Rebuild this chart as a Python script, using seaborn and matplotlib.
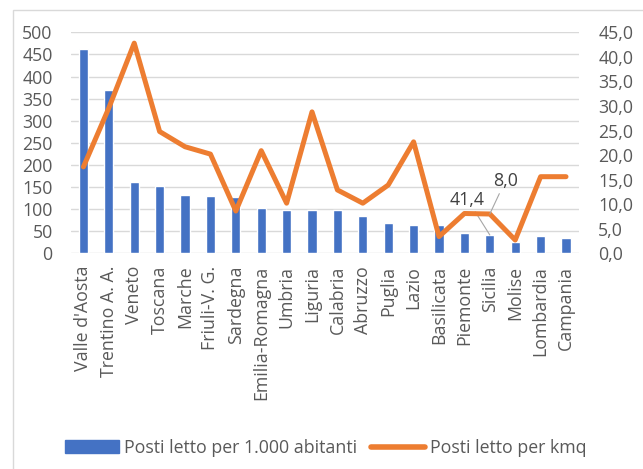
import numpy as np
import pandas as pd
import matplotlib
matplotlib.use("Agg")
import matplotlib.pyplot as plt
from matplotlib.patches import Rectangle
from matplotlib.lines import Line2D
from matplotlib.ticker import FuncFormatter
import seaborn as sns

# data
regioni = ["Valle d'Aosta", "Trentino A. A.", "Veneto", "Toscana", "Marche",
           "Friuli-V. G.", "Sardegna", "Emilia-Romagna", "Umbria", "Liguria",
           "Calabria", "Abruzzo", "Puglia", "Lazio", "Basilicata", "Piemonte",
           "Sicilia", "Molise", "Lombardia", "Campania"]
posti_per_1000_ab = [462, 369, 161, 153, 133, 130, 128, 103, 99, 99,
                     99, 84, 68, 64, 64, 45, 41.4, 25, 38, 34]
posti_per_kmq = [17.6, 29.6, 42.8, 24.8, 21.7, 20.2, 8.6, 20.9, 10.2, 28.8,
                 12.9, 10.2, 13.9, 22.7, 3.4, 8.1, 8.0, 2.7, 15.6, 15.6]
left_ticks = list(range(0, 501, 50))
right_ticks = list(range(0, 46, 5))

BLUE = "#4472C4"
ORANGE = "#ED7D31"
GRAY = "#595959"
FS = 12.8

sns.set_style("white")
plt.rcParams["font.family"] = ["Open Sans", "DejaVu Sans"]

df = pd.DataFrame({"regione": regioni,
                   "ab": posti_per_1000_ab,
                   "kmq": posti_per_kmq,
                   "pos": np.arange(len(regioni))})

fig = plt.figure(figsize=(6.43, 4.69), dpi=100)
ax = fig.add_axes([0.110, 0.460, 0.790, 0.471])

sns.barplot(data=df, x="regione", y="ab", color=BLUE, saturation=1,
            width=0.36, ax=ax)
ax.set_ylim(0, 500)
ax.set_yticks(left_ticks)
ax.set_xlim(-0.5, len(regioni) - 0.5)
ax.yaxis.grid(True, color="#D9D9D9", linewidth=1)
ax.set_axisbelow(True)
ax.set_xlabel("")
ax.set_ylabel("")
ax.tick_params(axis="x", labelrotation=90, labelsize=FS, colors=GRAY, length=0, pad=9)
ax.tick_params(axis="y", labelsize=FS, colors=GRAY, length=0, pad=13)
for s in ax.spines.values():
    s.set_visible(False)

ax2 = ax.twinx()
sns.lineplot(data=df, x="pos", y="kmq", color=ORANGE, linewidth=3.6,
             sort=False, solid_joinstyle="round", solid_capstyle="round", ax=ax2)
ax2.set_ylim(0, 45)
ax2.set_yticks(right_ticks)
ax2.yaxis.set_major_formatter(FuncFormatter(lambda v, p: f"{v:.1f}".replace(".", ",")))
ax2.set_xlim(-0.5, len(regioni) - 0.5)
ax2.set_xlabel("")
ax2.set_ylabel("")
ax2.tick_params(axis="y", labelsize=FS, colors=GRAY, length=0, pad=14)
for s in ax2.spines.values():
    s.set_visible(False)

# data labels for Sicilia
i = regioni.index("Sicilia")
ax.annotate(f"{posti_per_1000_ab[i]:.1f}".replace(".", ","),
            xy=(i, posti_per_1000_ab[i]), xytext=(-16, 19),
            textcoords="offset points", ha="center", va="bottom",
            fontsize=FS, color="#404040",
            arrowprops=dict(arrowstyle="-", color="#A6A6A6", lw=0.8,
                            shrinkA=0, shrinkB=0))
ax2.annotate(f"{posti_per_kmq[i]:.1f}".replace(".", ","),
             xy=(i, posti_per_kmq[i]), xytext=(11, 17),
             textcoords="offset points", ha="center", va="bottom",
             fontsize=FS, color="#404040",
             arrowprops=dict(arrowstyle="-", color="#A6A6A6", lw=0.8,
                             shrinkA=0, shrinkB=0))

handles = [Rectangle((0, 0), 1, 1, color=BLUE),
           Line2D([], [], color=ORANGE, linewidth=4)]
fig.legend(handles, ["Posti letto per 1.000 abitanti", "Posti letto per kmq"],
           loc="center", bbox_to_anchor=(0.507, 0.045), ncol=2, frameon=False,
           fontsize=FS, labelcolor=GRAY, handlelength=3.0, handleheight=0.7,
           handletextpad=0.3, columnspacing=0.8)

# chart border, as in the spreadsheet export
fig.add_artist(Rectangle((13 / 643, -0.1), 1.0, 1.1 - 10 / 469,
                         transform=fig.transFigure, fill=False,
                         edgecolor="#D9D9D9", linewidth=1))

fig.savefig("out.png", dpi=100)
